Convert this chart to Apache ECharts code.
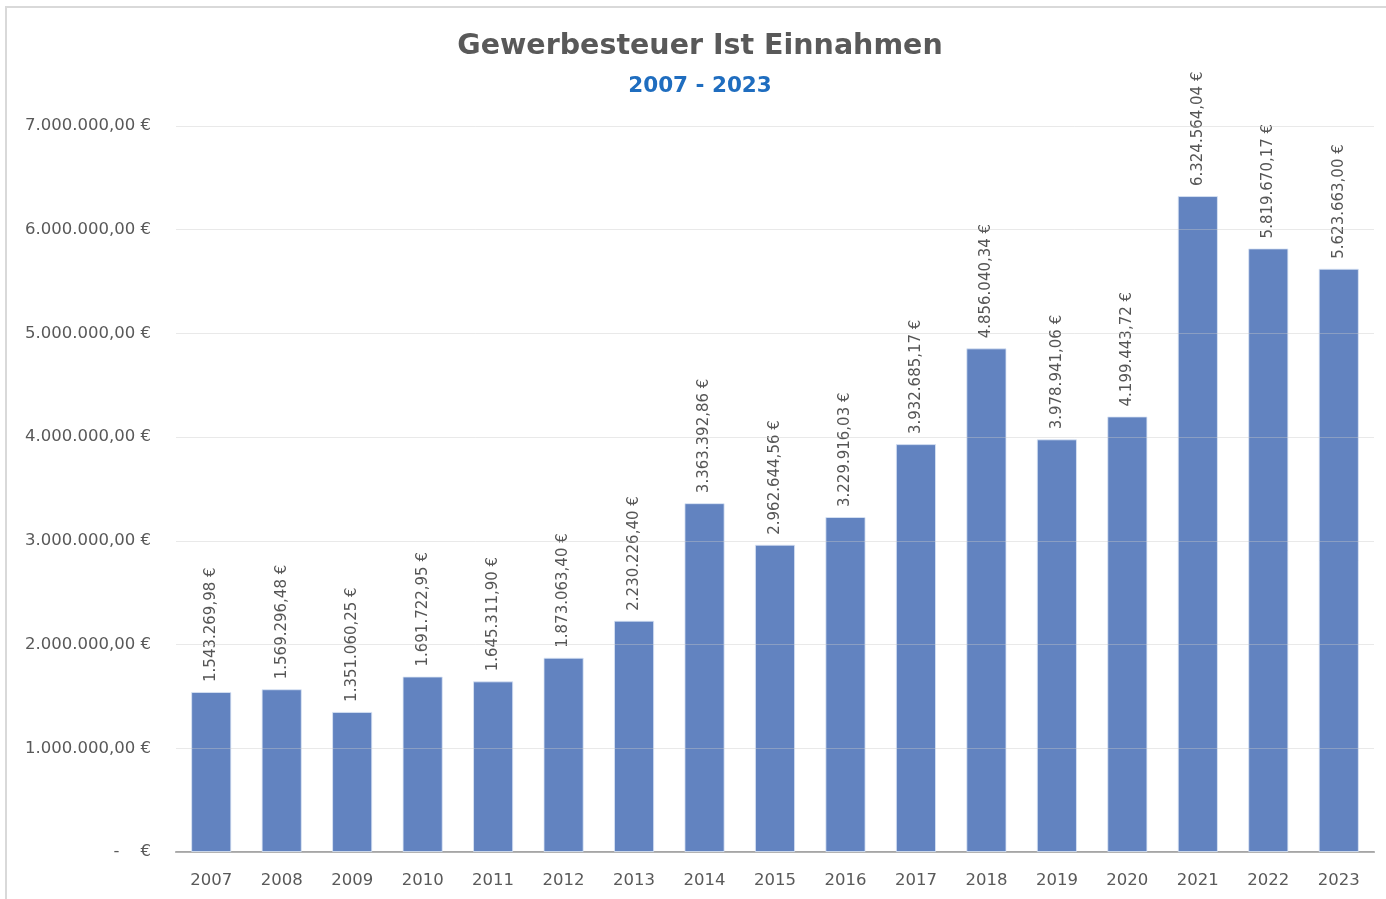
<!DOCTYPE html>
<html>
<head>
<meta charset="utf-8">
<script src="https://cdn.jsdelivr.net/npm/echarts@6/dist/echarts.min.js"></script>
<style>
html,body{margin:0;padding:0;background:#fff;overflow:hidden;}
#chart{width:1386px;height:899px;}
</style>
</head>
<body>
<div id="chart"></div>
<script>
const years = ['2007','2008','2009','2010','2011','2012','2013','2014','2015','2016','2017','2018','2019','2020','2021','2022','2023'];
const revenue = [1543269.98,1569296.48,1351060.25,1691722.95,1645311.90,1873063.40,2230226.40,3363392.86,2962644.56,3229916.03,3932685.17,4856040.34,3978941.06,4199443.72,6324564.04,5819670.17,5623663.00];
const yTicks = [0,1000000,2000000,3000000,4000000,5000000,6000000,7000000];
const titleText = 'Gewerbesteuer Ist Einnahmen';
const subtitleText = '2007 - 2023';

function fmtDE(v){
  const parts = v.toFixed(2).split('.');
  const intPart = parts[0].replace(/\B(?=(\d{3})+(?!\d))/g,'.');
  return intPart + ',' + parts[1] + ' €';
}

const FONT = 'DejaVu Sans';
const chart = echarts.init(document.getElementById('chart'));
chart.setOption({
  animation:false,
  backgroundColor:'#fff',
  graphic:[{
    type:'rect', silent:true,
    shape:{x:6,y:7,width:1400,height:1000},
    style:{fill:'none',stroke:'#d9d9d9',lineWidth:2}
  }],
  title:[
    {text:titleText,left:700,textAlign:'center',top:32,padding:0,
     textStyle:{fontFamily:FONT,fontSize:28.5,fontWeight:'bold',color:'#595959'}},
    {text:subtitleText,left:700,textAlign:'center',top:75,padding:0,
     textStyle:{fontFamily:FONT,fontSize:21.5,fontWeight:'bold',color:'#1f6dbf'}}
  ],
  grid:{left:176,right:12,top:126,bottom:47,containLabel:false},
  xAxis:{
    type:'category',data:years,
    axisLine:{lineStyle:{color:'#a6a6a6',width:2}},
    axisTick:{show:false},
    axisLabel:{fontFamily:FONT,fontSize:16.5,color:'#595959',margin:20}
  },
  yAxis:{
    type:'value',min:yTicks[0],max:yTicks[yTicks.length-1],interval:1000000,z:3,
    axisLine:{show:false},axisTick:{show:false},
    splitLine:{lineStyle:{color:'rgba(200,200,200,0.4)',width:1}},
    axisLabel:{fontFamily:FONT,fontSize:16.5,color:'#595959',margin:25,
      formatter:function(v){ return v===0 ? '-    €' : fmtDE(v); }}
  },
  series:[{
    type:'bar',data:revenue,barWidth:'57%',
    itemStyle:{color:'#6283c0',borderColor:'rgba(220,230,245,0.8)',borderWidth:1},
    label:{show:true,position:'top',rotate:90,align:'left',verticalAlign:'middle',distance:10,
      fontFamily:FONT,fontSize:15,color:'#555555',
      formatter:function(p){ return fmtDE(p.value); }}
  }]
});
</script>
</body>
</html>
